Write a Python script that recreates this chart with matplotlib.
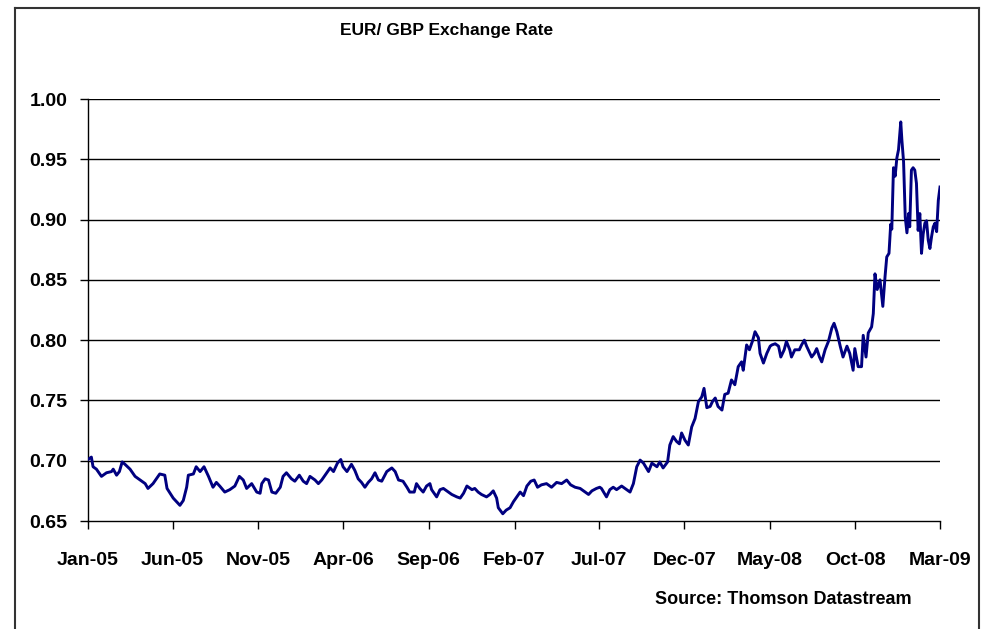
import matplotlib
matplotlib.use("Agg")
import matplotlib.pyplot as plt
import matplotlib.dates as mdates
from matplotlib.lines import Line2D
import pandas as pd

plt.rcParams['font.family'] = ['Liberation Sans', 'DejaVu Sans']

title = "EUR/ GBP Exchange Rate"
source = "Source: Thomson Datastream"

tick_dates = ["2005-01-01", "2005-06-01", "2005-11-01", "2006-04-01", "2006-09-01",
              "2007-02-01", "2007-07-01", "2007-12-01", "2008-05-01", "2008-10-01",
              "2009-03-01"]
y_ticks = [0.65, 0.70, 0.75, 0.80, 0.85, 0.90, 0.95, 1.00]

dates = [
    "2005-01-01", "2005-01-07", "2005-01-10", "2005-01-16", "2005-01-25", "2005-02-03",
    "2005-02-12", "2005-02-15", "2005-02-21", "2005-02-26", "2005-03-03", "2005-03-08",
    "2005-03-17", "2005-03-26", "2005-04-04", "2005-04-13", "2005-04-18", "2005-04-27",
    "2005-05-09", "2005-05-18", "2005-05-22", "2005-06-02", "2005-06-14", "2005-06-20",
    "2005-06-26", "2005-06-29", "2005-07-08", "2005-07-13", "2005-07-20", "2005-07-27",
    "2005-08-04", "2005-08-12", "2005-08-18", "2005-08-24", "2005-09-02", "2005-09-11",
    "2005-09-20", "2005-09-28", "2005-10-05", "2005-10-11", "2005-10-20", "2005-10-29",
    "2005-11-04",
    "2005-11-07", "2005-11-13", "2005-11-19", "2005-11-25", "2005-12-02", "2005-12-10",
    "2005-12-15", "2005-12-21", "2005-12-30", "2006-01-05", "2006-01-13", "2006-01-20",
    "2006-01-26", "2006-02-01", "2006-02-10", "2006-02-16", "2006-02-22", "2006-02-28",
    "2006-03-09", "2006-03-15", "2006-03-22", "2006-03-28", "2006-04-01", "2006-04-08",
    "2006-04-16", "2006-04-22", "2006-04-28", "2006-05-04", "2006-05-10", "2006-05-16",
    "2006-05-22", "2006-05-28", "2006-06-03", "2006-06-09", "2006-06-18", "2006-06-27",
    "2006-07-03", "2006-07-09", "2006-07-17", "2006-07-24", "2006-07-29", "2006-08-06",
    "2006-08-10", "2006-08-16", "2006-08-22", "2006-08-28", "2006-09-03",
    "2006-09-06", "2006-09-15", "2006-09-21", "2006-09-27", "2006-10-03", "2006-10-12",
    "2006-10-21", "2006-10-27", "2006-11-02", "2006-11-08", "2006-11-17", "2006-11-22",
    "2006-11-28", "2006-12-04", "2006-12-13", "2006-12-19", "2006-12-25", "2006-12-31",
    "2007-01-03", "2007-01-11", "2007-01-17", "2007-01-24", "2007-01-30", "2007-02-05",
    "2007-02-11", "2007-02-17", "2007-02-23", "2007-03-02", "2007-03-08", "2007-03-14",
    "2007-03-21", "2007-03-30", "2007-04-08", "2007-04-17", "2007-04-26", "2007-05-05",
    "2007-05-12", "2007-05-20", "2007-05-29", "2007-06-07", "2007-06-13", "2007-06-19",
    "2007-06-27", "2007-07-03",
    "2007-07-06", "2007-07-15", "2007-07-21", "2007-07-27", "2007-08-02", "2007-08-11",
    "2007-08-17", "2007-08-26", "2007-09-01", "2007-09-07", "2007-09-13", "2007-09-19",
    "2007-09-28", "2007-10-04", "2007-10-13", "2007-10-18", "2007-10-24", "2007-11-01",
    "2007-11-05", "2007-11-11", "2007-11-17", "2007-11-22", "2007-11-26", "2007-12-02",
    "2007-12-08", "2007-12-14", "2007-12-20", "2007-12-26", "2008-01-01", "2008-01-05",
    "2008-01-10", "2008-01-16", "2008-01-20", "2008-01-25", "2008-01-30", "2008-02-06",
    "2008-02-11", "2008-02-17", "2008-02-23", "2008-02-29", "2008-03-06", "2008-03-12",
    "2008-03-15", "2008-03-21", "2008-03-26", "2008-04-01", "2008-04-05", "2008-04-11",
    "2008-04-14", "2008-04-20", "2008-04-26", "2008-05-02",
    "2008-05-05", "2008-05-11", "2008-05-17", "2008-05-21", "2008-05-27", "2008-05-31",
    "2008-06-06", "2008-06-09", "2008-06-15", "2008-06-23", "2008-06-27", "2008-07-02",
    "2008-07-06", "2008-07-12", "2008-07-15", "2008-07-20", "2008-07-24", "2008-07-29",
    "2008-08-02", "2008-08-08", "2008-08-14", "2008-08-20", "2008-08-24", "2008-08-29",
    "2008-09-04", "2008-09-09", "2008-09-16", "2008-09-21", "2008-09-27", "2008-09-30",
    "2008-10-06", "2008-10-12", "2008-10-15", "2008-10-20", "2008-10-24", "2008-10-30",
    "2008-11-02", "2008-11-05", "2008-11-09", "2008-11-14", "2008-11-19", "2008-11-23",
    "2008-11-26", "2008-11-30", "2008-12-03", "2008-12-05", "2008-12-08", "2008-12-11",
    "2008-12-14", "2008-12-17", "2008-12-21", "2008-12-23", "2008-12-26", "2008-12-29",
    "2009-01-01", "2009-01-04", "2009-01-06", "2009-01-09", "2009-01-12", "2009-01-15",
    "2009-01-18", "2009-01-21", "2009-01-24", "2009-01-27", "2009-01-30", "2009-02-02",
    "2009-02-05", "2009-02-08", "2009-02-11", "2009-02-14", "2009-02-17", "2009-02-20",
    "2009-02-23", "2009-02-26", "2009-03-01",
]

rates = [
    0.701, 0.703, 0.695, 0.693, 0.687, 0.690,
    0.691, 0.693, 0.688, 0.691, 0.699, 0.697,
    0.693, 0.687, 0.684, 0.681, 0.677, 0.681,
    0.689, 0.688, 0.677, 0.669, 0.663, 0.667,
    0.678, 0.688, 0.689, 0.695, 0.691, 0.695,
    0.687, 0.678, 0.682, 0.679, 0.674, 0.676,
    0.679, 0.687, 0.684, 0.677, 0.681, 0.674,
    0.673,
    0.681, 0.685, 0.684, 0.674, 0.673, 0.678,
    0.687, 0.690, 0.685, 0.683, 0.688, 0.683,
    0.681, 0.687, 0.684, 0.681, 0.684, 0.688,
    0.694, 0.691, 0.698, 0.701, 0.695, 0.691,
    0.697, 0.692, 0.685, 0.682, 0.678, 0.682,
    0.685, 0.690, 0.684, 0.683, 0.691, 0.694,
    0.691, 0.684, 0.683, 0.678, 0.674, 0.674,
    0.681, 0.677, 0.674, 0.679, 0.681,
    0.676, 0.670, 0.676, 0.677, 0.675, 0.672,
    0.670, 0.669, 0.673, 0.679, 0.676, 0.677,
    0.674, 0.672, 0.670, 0.672, 0.675, 0.669,
    0.661, 0.656, 0.659, 0.661, 0.666, 0.670,
    0.674, 0.671, 0.679, 0.683, 0.684, 0.678,
    0.680, 0.681, 0.678, 0.682, 0.681, 0.684,
    0.680, 0.678, 0.677, 0.674, 0.672, 0.675,
    0.677, 0.678,
    0.677, 0.670, 0.676, 0.678, 0.676, 0.679,
    0.677, 0.674, 0.681, 0.695, 0.7005, 0.698,
    0.691, 0.698, 0.695, 0.699, 0.694, 0.699,
    0.713, 0.720, 0.716, 0.714, 0.723, 0.717,
    0.713, 0.728, 0.735, 0.749, 0.753, 0.760,
    0.744, 0.745, 0.749, 0.752, 0.745, 0.742,
    0.755, 0.756, 0.767, 0.763, 0.778, 0.782,
    0.775, 0.796, 0.792, 0.800, 0.807, 0.802,
    0.789, 0.781, 0.789, 0.795,
    0.796, 0.797, 0.795, 0.786, 0.792, 0.799,
    0.792, 0.786, 0.792, 0.792, 0.796, 0.800,
    0.795, 0.789, 0.786, 0.789, 0.793, 0.786,
    0.782, 0.792, 0.799, 0.810, 0.814, 0.807,
    0.795, 0.786, 0.795, 0.789, 0.775, 0.793,
    0.778, 0.778, 0.804, 0.786, 0.806, 0.811,
    0.822, 0.855, 0.842, 0.850, 0.828, 0.853,
    0.869, 0.872, 0.896, 0.892, 0.943, 0.936,
    0.951, 0.958, 0.981, 0.966, 0.948, 0.902,
    0.889, 0.905, 0.894, 0.941, 0.943, 0.941,
    0.930, 0.891, 0.905, 0.872, 0.888, 0.897,
    0.899, 0.883, 0.876, 0.886, 0.894, 0.897,
    0.890, 0.916, 0.927,
]

W, H = 987, 629
fig = plt.figure(figsize=(W / 100, H / 100), dpi=100)
fig.patch.set_facecolor("white")

ax = fig.add_axes([88 / W, 1 - 521 / H, (940 - 88) / W, (521 - 99) / H])
x = pd.to_datetime(dates)
ax.plot(x, rates, color="#000080", lw=2.1, solid_joinstyle="round", zorder=3)

ticks = pd.to_datetime(tick_dates)
ax.set_xlim(ticks[0], ticks[-1])
ax.set_ylim(y_ticks[0], y_ticks[-1])
ax.set_xticks(ticks)
ax.xaxis.set_major_formatter(mdates.DateFormatter("%b-%y"))
ax.set_yticks(y_ticks)
ax.set_yticklabels([f"{v:.2f}" for v in y_ticks])

for v in y_ticks[1:]:
    ax.axhline(v, color="black", lw=1.0, zorder=1)

for s in ["top", "right"]:
    ax.spines[s].set_visible(False)
for s in ["left", "bottom"]:
    ax.spines[s].set_color("black")
    ax.spines[s].set_linewidth(1.0)

ax.tick_params(axis="x", direction="out", length=6, width=1, pad=16,
               labelsize=14, colors="black")
ax.tick_params(axis="y", direction="out", length=6, width=1, pad=9,
               labelsize=14, colors="black")
for lab in ax.get_xticklabels() + ax.get_yticklabels():
    lab.set_fontweight("bold")

fig.text(447 / W, 1 - 30 / H, title, ha="center", va="center",
         fontsize=12.5, fontweight="bold")
fig.text(655 / W, 1 - 599 / H, source, ha="left", va="center",
         fontsize=13, fontweight="bold")

# outer frame (open at the bottom)
fc = "#333333"
fig.add_artist(Line2D([15 / W, 15 / W], [0, 1 - 8 / H], transform=fig.transFigure, color=fc, lw=1.5))
fig.add_artist(Line2D([15 / W, 979 / W], [1 - 8 / H, 1 - 8 / H], transform=fig.transFigure, color=fc, lw=1.5))
fig.add_artist(Line2D([979 / W, 979 / W], [0, 1 - 8 / H], transform=fig.transFigure, color=fc, lw=1.5))

fig.savefig("out.png", dpi=100, facecolor="white")
